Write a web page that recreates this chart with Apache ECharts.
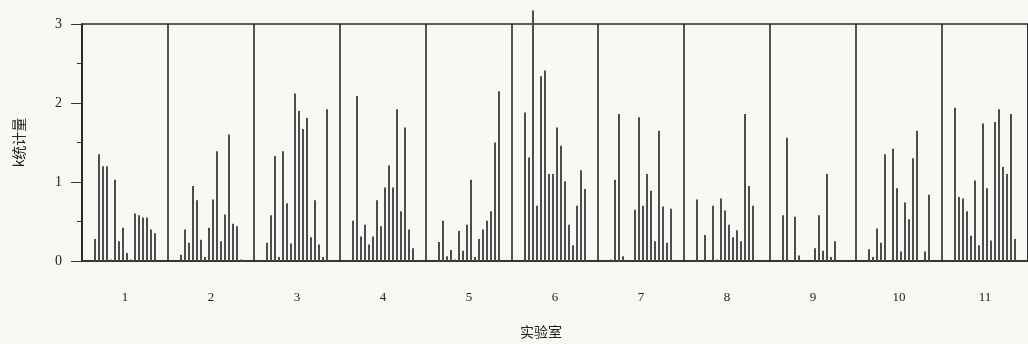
<!DOCTYPE html>
<html>
<head>
<meta charset="utf-8">
<script src="https://cdn.jsdelivr.net/npm/echarts@6/dist/echarts.min.js"></script>
<style>
  html, body { margin: 0; padding: 0; background: #f8f8f5; }
  #chart { width: 1028px; height: 344px; }
</style>
</head>
<body>
<div id="chart"></div>
<script>
// labs on the x axis
const labs = ['1', '2', '3', '4', '5', '6', '7', '8', '9', '10', '11'];

// k statistic per material (16 materials) for each lab
const lab1 = [0.28, 1.35, 1.2, 1.2, 0.02, 1.03, 0.25, 0.42, 0.1, 0.02, 0.6, 0.58, 0.55, 0.55, 0.4, 0.35];
const lab2 = [0.08, 0.4, 0.23, 0.95, 0.77, 0.27, 0.05, 0.42, 0.78, 1.39, 0.25, 0.59, 1.6, 0.47, 0.44, 0.02];
const lab3 = [0.23, 0.58, 1.33, 0.05, 1.39, 0.73, 0.22, 2.12, 1.9, 1.67, 1.81, 0.3, 0.77, 0.21, 0.05, 1.92];
const lab4 = [0.51, 2.09, 0.31, 0.46, 0.21, 0.31, 0.77, 0.44, 0.93, 1.21, 0.93, 1.92, 0.63, 1.69, 0.4, 0.16];
const lab5 = [0.24, 0.51, 0.06, 0.14, 0.02, 0.38, 0.13, 0.46, 1.03, 0.05, 0.28, 0.4, 0.51, 0.63, 1.5, 2.15];
const lab6 = [1.88, 1.31, 3.17, 0.7, 2.34, 2.41, 1.1, 1.1, 1.69, 1.46, 1.01, 0.46, 0.2, 0.7, 1.15, 0.91];
const lab7 = [0.02, 1.03, 1.86, 0.06, 0, 0, 0.65, 1.82, 0.7, 1.1, 0.89, 0.25, 1.65, 0.69, 0.23, 0.66];
const lab8 = [0.78, 0, 0.33, 0, 0.7, 0.02, 0.79, 0.64, 0.46, 0.3, 0.39, 0.25, 1.86, 0.95, 0.7, 0];
const lab9 = [0.58, 1.56, 0, 0.56, 0.07, 0, 0, 0, 0.16, 0.58, 0.13, 1.1, 0.05, 0.25, 0, 0];
const lab10 = [0.15, 0.05, 0.41, 0.23, 1.35, 0, 1.42, 0.92, 0.12, 0.74, 0.53, 1.3, 1.65, 0, 0.12, 0.84];
const lab11 = [1.94, 0.81, 0.79, 0.63, 0.32, 1.02, 0.2, 1.74, 0.92, 0.26, 1.76, 1.92, 1.19, 1.1, 1.86, 0.28];

const yTicks = [0, 1, 2, 3];

const labValues = [lab1, lab2, lab3, lab4, lab5, lab6, lab7, lab8, lab9, lab10, lab11];
const materialCount = lab1.length;

const chart = echarts.init(document.getElementById('chart'));

// one bar series per material, side by side inside each lab
const series = [];
for (let j = 0; j < materialCount; j++) {
  series.push({
    type: 'bar',
    name: 'm' + (j + 1),
    data: labValues.map((v) => v[j]),
    barWidth: 2,
    barGap: '100%',
    clip: false,
    itemStyle: { color: '#4d4d4d' },
    silent: true,
  });
}

const serif = '"Liberation Serif", "DejaVu Serif", serif';

chart.setOption({
  animation: false,
  backgroundColor: '#f8f8f5',
  grid: {
    left: 82,
    right: -1,
    top: 24,
    bottom: 83,
    show: true,
    borderColor: '#2a2a2a',
    borderWidth: 1.5,
  },
  xAxis: {
    type: 'category',
    data: labs,
    name: '实验室',
    nameLocation: 'middle',
    nameGap: 64,
    nameTextStyle: {
      fontFamily: '"Noto Sans CJK SC", sans-serif',
      fontSize: 14,
      color: '#222',
      padding: [0, 28, 0, 0],
    },
    axisLine: { lineStyle: { color: '#2a2a2a', width: 1.5 } },
    axisTick: { alignWithLabel: true, length: 7, lineStyle: { color: '#333' } },
    axisLabel: { margin: 30, fontFamily: serif, fontSize: 13, color: '#222' },
    splitLine: { show: true, interval: 0, lineStyle: { color: '#1e1e1e', width: 1.5 } },
  },
  yAxis: {
    type: 'value',
    min: 0,
    max: 3,
    interval: 1,
    name: 'k统计量',
    nameLocation: 'middle',
    nameGap: 56,
    nameTextStyle: {
      fontFamily: '"Noto Sans CJK SC", sans-serif',
      fontSize: 14,
      color: '#222',
    },
    axisLine: { show: true, lineStyle: { color: '#2a2a2a', width: 1.5 } },
    axisTick: { show: true, length: 11, lineStyle: { color: '#333' } },
    minorTick: { show: true, splitNumber: 2, length: 5, lineStyle: { color: '#333' } },
    axisLabel: {
      margin: 20,
      fontFamily: serif,
      fontSize: 14,
      color: '#222',
      formatter: (v) => (yTicks.includes(v) ? String(v) : ''),
    },
    splitLine: { show: false },
  },
  series,
});
</script>
</body>
</html>
